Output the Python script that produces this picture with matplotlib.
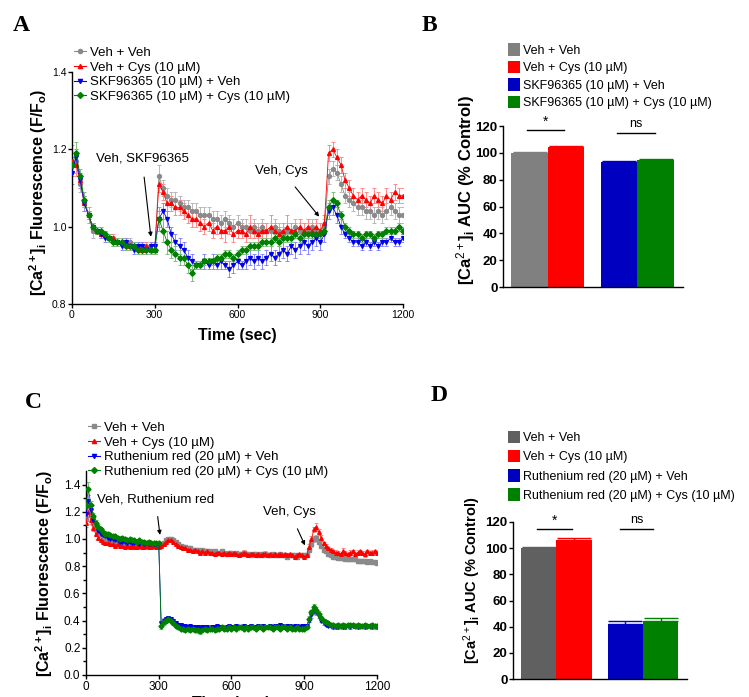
import numpy as np
import matplotlib
matplotlib.use("Agg")
import matplotlib.pyplot as plt
from matplotlib.lines import Line2D
from matplotlib.patches import Patch

plt.rcParams['font.family'] = ['Liberation Sans', 'DejaVu Sans']
plt.rcParams['mathtext.fontset'] = 'custom'
plt.rcParams['mathtext.rm'] = 'Liberation Sans'
plt.rcParams['mathtext.it'] = 'Liberation Sans:italic'
plt.rcParams['mathtext.bf'] = 'Liberation Sans:bold'

# ---------------- panel A data (every 15 s) ----------------
time_a = np.arange(0, 1201, 15)
veh_veh_a = [1.16, 1.17, 1.11, 1.06, 1.03, 0.99, 0.99, 0.98, 0.98, 0.97,
             0.97, 0.96, 0.96, 0.95, 0.96, 0.95, 0.95, 0.94, 0.95, 0.94,
             0.94, 1.13, 1.10, 1.08, 1.07, 1.07, 1.06, 1.05, 1.05, 1.04,
             1.04, 1.03, 1.03, 1.03, 1.02, 1.02, 1.01, 1.02, 1.01, 1.00,
             1.01, 1.00, 1.00, 0.99, 1.00, 0.99, 1.00, 0.99, 0.99, 1.00,
             0.99, 0.98, 0.99, 0.99, 1.00, 0.99, 0.99, 0.99, 1.00, 0.99,
             0.99, 1.00, 1.13, 1.15, 1.14, 1.11, 1.08, 1.07, 1.06, 1.05,
             1.05, 1.04, 1.04, 1.03, 1.04, 1.03, 1.04, 1.05, 1.04, 1.03,
             1.03]
veh_cys_a = [1.17, 1.16, 1.12, 1.06, 1.03, 1.00, 0.99, 0.98, 0.98, 0.97,
             0.97, 0.96, 0.96, 0.96, 0.95, 0.95, 0.95, 0.94, 0.95, 0.94,
             0.94, 1.11, 1.09, 1.06, 1.06, 1.05, 1.05, 1.04, 1.03, 1.02,
             1.02, 1.01, 1.00, 1.01, 0.99, 1.00, 0.99, 0.99, 1.00, 0.98,
             0.99, 0.99, 0.98, 1.00, 0.99, 0.98, 0.99, 0.99, 1.00, 0.99,
             0.98, 0.99, 1.00, 0.99, 0.99, 1.00, 0.99, 1.00, 0.99, 1.00,
             0.99, 1.01, 1.19, 1.20, 1.18, 1.16, 1.12, 1.10, 1.08, 1.07,
             1.08, 1.07, 1.06, 1.08, 1.07, 1.06, 1.08, 1.07, 1.09, 1.08,
             1.08]
skf_veh_a = [1.14, 1.18, 1.12, 1.06, 1.03, 1.00, 0.99, 0.98, 0.97, 0.97,
             0.96, 0.96, 0.95, 0.96, 0.95, 0.94, 0.95, 0.95, 0.94, 0.95,
             0.95, 1.02, 1.04, 1.02, 0.98, 0.96, 0.95, 0.94, 0.92, 0.91,
             0.90, 0.90, 0.91, 0.90, 0.91, 0.90, 0.91, 0.90, 0.89, 0.90,
             0.91, 0.90, 0.91, 0.92, 0.91, 0.92, 0.91, 0.92, 0.93, 0.92,
             0.93, 0.94, 0.93, 0.95, 0.94, 0.95, 0.96, 0.95, 0.96, 0.97,
             0.96, 0.98, 1.04, 1.05, 1.03, 1.00, 0.98, 0.97, 0.96, 0.96,
             0.95, 0.96, 0.95, 0.96, 0.95, 0.96, 0.96, 0.97, 0.96, 0.96,
             0.97]
skf_cys_a = [1.16, 1.19, 1.13, 1.07, 1.03, 1.00, 0.99, 0.99, 0.98, 0.97,
             0.96, 0.96, 0.96, 0.95, 0.95, 0.95, 0.94, 0.94, 0.94, 0.94,
             0.94, 1.02, 0.99, 0.96, 0.94, 0.93, 0.92, 0.92, 0.90, 0.88,
             0.90, 0.90, 0.91, 0.91, 0.91, 0.92, 0.92, 0.93, 0.93, 0.92,
             0.93, 0.94, 0.94, 0.95, 0.95, 0.95, 0.96, 0.96, 0.96, 0.97,
             0.96, 0.97, 0.97, 0.97, 0.98, 0.97, 0.98, 0.98, 0.98, 0.98,
             0.98, 0.99, 1.05, 1.07, 1.06, 1.03, 1.00, 0.99, 0.98, 0.98,
             0.97, 0.98, 0.98, 0.97, 0.98, 0.98, 0.99, 0.99, 0.99, 1.00,
             0.99]
# SEM
veh_veh_a_err = [0.03, 0.03, 0.02, 0.02, 0.02, 0.02, 0.01, 0.01, 0.01, 0.01,
                 0.01, 0.01, 0.01, 0.01, 0.01, 0.01, 0.01, 0.01, 0.01, 0.01,
                 0.01, 0.03, 0.02, 0.02, 0.02, 0.02, 0.02, 0.02, 0.02, 0.02,
                 0.02, 0.02, 0.02, 0.02, 0.02, 0.02, 0.02, 0.02, 0.02, 0.02,
                 0.02, 0.02, 0.02, 0.02, 0.02, 0.02, 0.02, 0.02, 0.02, 0.02,
                 0.02, 0.02, 0.02, 0.02, 0.02, 0.02, 0.02, 0.02, 0.02, 0.02,
                 0.02, 0.02, 0.02, 0.02, 0.02, 0.02, 0.02, 0.02, 0.02, 0.02,
                 0.02, 0.02, 0.02, 0.02, 0.02, 0.02, 0.02, 0.02, 0.02, 0.02,
                 0.02]
veh_cys_a_err = [0.04, 0.03, 0.02, 0.02, 0.02, 0.01, 0.01, 0.01, 0.01, 0.01,
                 0.01, 0.01, 0.01, 0.01, 0.01, 0.01, 0.01, 0.01, 0.01, 0.01,
                 0.01, 0.02, 0.02, 0.02, 0.02, 0.02, 0.02, 0.02, 0.02, 0.02,
                 0.02, 0.02, 0.02, 0.02, 0.02, 0.02, 0.02, 0.03, 0.02, 0.02,
                 0.02, 0.02, 0.02, 0.03, 0.02, 0.02, 0.02, 0.02, 0.03, 0.02,
                 0.02, 0.02, 0.03, 0.02, 0.02, 0.02, 0.02, 0.02, 0.02, 0.02,
                 0.02, 0.02, 0.02, 0.02, 0.02, 0.02, 0.02, 0.02, 0.02, 0.02,
                 0.02, 0.02, 0.02, 0.02, 0.02, 0.02, 0.02, 0.02, 0.02, 0.02,
                 0.02]
skf_veh_a_err = [0.03, 0.02, 0.02, 0.02, 0.01, 0.01, 0.01, 0.01, 0.01, 0.01,
                 0.01, 0.01, 0.01, 0.01, 0.01, 0.01, 0.01, 0.01, 0.01, 0.01,
                 0.01, 0.02, 0.02, 0.02, 0.02, 0.02, 0.02, 0.02, 0.02, 0.02,
                 0.01, 0.01, 0.02, 0.01, 0.02, 0.01, 0.02, 0.01, 0.02, 0.02,
                 0.02, 0.01, 0.02, 0.02, 0.02, 0.02, 0.02, 0.02, 0.02, 0.02,
                 0.02, 0.02, 0.02, 0.02, 0.02, 0.02, 0.02, 0.02, 0.02, 0.02,
                 0.02, 0.02, 0.02, 0.02, 0.02, 0.02, 0.01, 0.01, 0.01, 0.01,
                 0.01, 0.01, 0.01, 0.01, 0.01, 0.01, 0.01, 0.01, 0.01, 0.01,
                 0.01]
skf_cys_a_err = [0.02, 0.03, 0.02, 0.02, 0.01, 0.01, 0.01, 0.01, 0.01, 0.01,
                 0.01, 0.01, 0.01, 0.01, 0.01, 0.01, 0.01, 0.01, 0.01, 0.01,
                 0.01, 0.03, 0.03, 0.03, 0.02, 0.02, 0.02, 0.02, 0.02, 0.02,
                 0.01, 0.01, 0.01, 0.01, 0.01, 0.01, 0.01, 0.01, 0.01, 0.01,
                 0.01, 0.01, 0.01, 0.01, 0.01, 0.01, 0.01, 0.01, 0.01, 0.01,
                 0.01, 0.01, 0.01, 0.01, 0.01, 0.01, 0.01, 0.01, 0.01, 0.01,
                 0.01, 0.01, 0.02, 0.02, 0.01, 0.01, 0.01, 0.01, 0.01, 0.01,
                 0.01, 0.01, 0.01, 0.01, 0.01, 0.01, 0.01, 0.01, 0.01, 0.01,
                 0.01]

# ---------------- panel B data ----------------
bar_b_labels = ['Veh + Veh', 'Veh + Cys (10 µM)', 'SKF96365 (10 µM) + Veh',
                'SKF96365 (10 µM) + Cys (10 µM)']
bar_b_values = [100, 104.5, 93.5, 94.5]
bar_b_err = [0.8, 0.8, 0.6, 0.6]

# ---------------- panel C data (every 10 s) ----------------
time_c = np.arange(0, 1201, 10)
veh_veh_c = [1.15, 1.25, 1.18, 1.12, 1.08, 1.05, 1.03, 1.02, 1.01, 1.00,
             0.99, 0.99, 0.98, 0.98, 0.97, 0.97, 0.97, 0.96, 0.97, 0.96,
             0.96, 0.96, 0.95, 0.96, 0.95, 0.95, 0.96, 0.95, 0.95, 0.95,
             0.95, 0.96, 0.97, 0.99, 1.00, 1.00, 0.99, 0.98, 0.96, 0.95,
             0.94, 0.94, 0.93, 0.93, 0.92, 0.92, 0.92, 0.91, 0.92, 0.91,
             0.91, 0.91, 0.90, 0.91, 0.90, 0.90, 0.91, 0.90, 0.89, 0.90,
             0.90, 0.89, 0.90, 0.89, 0.89, 0.90, 0.89, 0.89, 0.88, 0.89,
             0.89, 0.88, 0.89, 0.88, 0.89, 0.88, 0.88, 0.89, 0.88, 0.88,
             0.89, 0.88, 0.88, 0.87, 0.88, 0.88, 0.88, 0.87, 0.88, 0.88,
             0.88, 0.88, 0.92, 0.96, 1.00, 1.01, 0.98, 0.95, 0.92, 0.91,
             0.89, 0.88, 0.87, 0.87, 0.86, 0.86, 0.86, 0.85, 0.85, 0.85,
             0.85, 0.85, 0.84, 0.84, 0.84, 0.84, 0.83, 0.84, 0.83, 0.83,
             0.82]
veh_cys_c = [1.12, 1.20, 1.14, 1.08, 1.04, 1.01, 0.99, 0.98, 0.97, 0.97,
             0.96, 0.96, 0.95, 0.96, 0.95, 0.95, 0.94, 0.95, 0.94, 0.95,
             0.94, 0.94, 0.95, 0.94, 0.94, 0.95, 0.94, 0.94, 0.95, 0.94,
             0.94, 0.95, 0.96, 0.98, 0.99, 0.99, 0.98, 0.96, 0.95, 0.94,
             0.93, 0.93, 0.92, 0.92, 0.91, 0.92, 0.91, 0.90, 0.91, 0.90,
             0.91, 0.90, 0.90, 0.89, 0.90, 0.90, 0.89, 0.90, 0.89, 0.90,
             0.89, 0.90, 0.89, 0.88, 0.89, 0.90, 0.89, 0.88, 0.89, 0.89,
             0.88, 0.89, 0.88, 0.89, 0.89, 0.88, 0.89, 0.88, 0.89, 0.88,
             0.89, 0.88, 0.89, 0.88, 0.89, 0.88, 0.87, 0.88, 0.89, 0.88,
             0.87, 0.88, 0.94, 1.00, 1.07, 1.09, 1.05, 1.01, 0.97, 0.95,
             0.93, 0.92, 0.91, 0.90, 0.90, 0.89, 0.91, 0.90, 0.89, 0.90,
             0.91, 0.89, 0.90, 0.91, 0.90, 0.89, 0.91, 0.90, 0.90, 0.91,
             0.90]
rr_veh_c = [1.18, 1.28, 1.21, 1.14, 1.10, 1.06, 1.04, 1.03, 1.02, 1.01,
            1.00, 1.00, 0.99, 0.99, 0.98, 0.98, 0.98, 0.97, 0.98, 0.97,
            0.97, 0.97, 0.96, 0.97, 0.96, 0.97, 0.96, 0.96, 0.96, 0.96,
            0.96, 0.38, 0.40, 0.41, 0.42, 0.41, 0.40, 0.38, 0.37, 0.37,
            0.36, 0.36, 0.35, 0.36, 0.35, 0.35, 0.35, 0.34, 0.35, 0.35,
            0.35, 0.34, 0.35, 0.35, 0.36, 0.35, 0.35, 0.34, 0.35, 0.36,
            0.35, 0.35, 0.36, 0.35, 0.35, 0.36, 0.35, 0.35, 0.36, 0.35,
            0.35, 0.36, 0.35, 0.36, 0.35, 0.35, 0.36, 0.35, 0.36, 0.36,
            0.37, 0.36, 0.35, 0.36, 0.36, 0.35, 0.36, 0.36, 0.35, 0.36,
            0.36, 0.36, 0.40, 0.44, 0.47, 0.46, 0.43, 0.40, 0.38, 0.37,
            0.36, 0.36, 0.35, 0.35, 0.35, 0.36, 0.35, 0.35, 0.36, 0.35,
            0.36, 0.36, 0.35, 0.36, 0.36, 0.35, 0.36, 0.36, 0.35, 0.36,
            0.35]
rr_cys_c = [1.24, 1.37, 1.25, 1.17, 1.12, 1.09, 1.07, 1.05, 1.04, 1.04,
            1.03, 1.02, 1.02, 1.01, 1.00, 1.01, 1.00, 0.99, 1.00, 0.99,
            0.99, 0.98, 0.99, 0.98, 0.98, 0.97, 0.98, 0.97, 0.97, 0.97,
            0.97, 0.36, 0.39, 0.40, 0.41, 0.40, 0.38, 0.36, 0.35, 0.34,
            0.34, 0.33, 0.34, 0.33, 0.34, 0.33, 0.33, 0.32, 0.33, 0.34,
            0.33, 0.34, 0.34, 0.33, 0.34, 0.34, 0.35, 0.34, 0.34, 0.35,
            0.34, 0.35, 0.34, 0.35, 0.35, 0.34, 0.35, 0.34, 0.35, 0.35,
            0.34, 0.35, 0.35, 0.34, 0.35, 0.35, 0.35, 0.34, 0.35, 0.35,
            0.34, 0.35, 0.35, 0.34, 0.35, 0.34, 0.34, 0.35, 0.34, 0.34,
            0.34, 0.35, 0.41, 0.46, 0.50, 0.48, 0.45, 0.42, 0.40, 0.39,
            0.38, 0.37, 0.37, 0.36, 0.37, 0.36, 0.37, 0.36, 0.37, 0.37,
            0.37, 0.36, 0.37, 0.36, 0.36, 0.37, 0.36, 0.36, 0.37, 0.36,
            0.36]
veh_veh_c_err = [0.03, 0.04, 0.03, 0.02, 0.02, 0.01, 0.01, 0.01, 0.01, 0.01,
                 0.01, 0.01, 0.01, 0.01, 0.01, 0.01, 0.01, 0.01, 0.01, 0.01,
                 0.01, 0.01, 0.01, 0.01, 0.01, 0.01, 0.01, 0.01, 0.01, 0.01,
                 0.01, 0.01, 0.01, 0.01, 0.01, 0.01, 0.01, 0.01, 0.01, 0.01,
                 0.01, 0.01, 0.01, 0.01, 0.01, 0.01, 0.01, 0.01, 0.01, 0.01,
                 0.01, 0.01, 0.01, 0.01, 0.01, 0.01, 0.01, 0.01, 0.01, 0.01,
                 0.01, 0.01, 0.01, 0.01, 0.01, 0.01, 0.01, 0.01, 0.01, 0.01,
                 0.01, 0.01, 0.01, 0.01, 0.01, 0.01, 0.01, 0.01, 0.01, 0.01,
                 0.01, 0.01, 0.01, 0.01, 0.01, 0.01, 0.01, 0.01, 0.01, 0.01,
                 0.01, 0.01, 0.01, 0.02, 0.02, 0.02, 0.02, 0.01, 0.01, 0.01,
                 0.01, 0.01, 0.01, 0.01, 0.01, 0.01, 0.01, 0.01, 0.01, 0.01,
                 0.01, 0.01, 0.01, 0.01, 0.01, 0.01, 0.01, 0.01, 0.01, 0.01,
                 0.01]
veh_cys_c_err = [0.03, 0.04, 0.03, 0.02, 0.02, 0.01, 0.01, 0.01, 0.01, 0.01,
                 0.01, 0.01, 0.01, 0.01, 0.01, 0.01, 0.01, 0.01, 0.01, 0.01,
                 0.01, 0.01, 0.01, 0.01, 0.01, 0.01, 0.01, 0.01, 0.01, 0.01,
                 0.01, 0.01, 0.01, 0.01, 0.01, 0.01, 0.01, 0.01, 0.01, 0.01,
                 0.01, 0.01, 0.01, 0.01, 0.01, 0.01, 0.01, 0.01, 0.01, 0.01,
                 0.01, 0.01, 0.01, 0.01, 0.01, 0.01, 0.01, 0.01, 0.01, 0.01,
                 0.01, 0.01, 0.01, 0.01, 0.01, 0.02, 0.01, 0.01, 0.01, 0.01,
                 0.01, 0.01, 0.01, 0.01, 0.02, 0.01, 0.01, 0.01, 0.01, 0.01,
                 0.01, 0.01, 0.01, 0.01, 0.01, 0.01, 0.01, 0.01, 0.01, 0.01,
                 0.01, 0.01, 0.02, 0.02, 0.02, 0.03, 0.02, 0.02, 0.01, 0.01,
                 0.01, 0.01, 0.01, 0.02, 0.01, 0.01, 0.02, 0.01, 0.01, 0.02,
                 0.01, 0.01, 0.02, 0.01, 0.01, 0.02, 0.01, 0.01, 0.02, 0.01,
                 0.01]
rr_veh_c_err = [0.05, 0.04, 0.03, 0.02, 0.02, 0.01, 0.01, 0.01, 0.01, 0.01,
                0.01, 0.01, 0.01, 0.01, 0.01, 0.01, 0.01, 0.01, 0.01, 0.01,
                0.01, 0.01, 0.01, 0.01, 0.01, 0.01, 0.01, 0.01, 0.01, 0.01,
                0.01, 0.02, 0.02, 0.01, 0.01, 0.01, 0.01, 0.01, 0.01, 0.01,
                0.01, 0.01, 0.01, 0.01, 0.01, 0.01, 0.01, 0.01, 0.01, 0.01,
                0.01, 0.01, 0.01, 0.01, 0.01, 0.01, 0.01, 0.01, 0.01, 0.01,
                0.01, 0.01, 0.01, 0.01, 0.01, 0.01, 0.01, 0.01, 0.01, 0.01,
                0.01, 0.01, 0.01, 0.01, 0.01, 0.01, 0.01, 0.01, 0.01, 0.01,
                0.01, 0.01, 0.01, 0.01, 0.01, 0.01, 0.01, 0.01, 0.01, 0.01,
                0.01, 0.01, 0.01, 0.02, 0.02, 0.02, 0.01, 0.01, 0.01, 0.01,
                0.01, 0.01, 0.01, 0.01, 0.01, 0.01, 0.01, 0.01, 0.01, 0.01,
                0.01, 0.01, 0.01, 0.01, 0.01, 0.01, 0.01, 0.01, 0.01, 0.01,
                0.01]
rr_cys_c_err = [0.04, 0.05, 0.03, 0.02, 0.02, 0.02, 0.01, 0.01, 0.02, 0.01,
                0.01, 0.01, 0.01, 0.01, 0.01, 0.01, 0.01, 0.01, 0.01, 0.01,
                0.01, 0.01, 0.01, 0.01, 0.01, 0.01, 0.01, 0.01, 0.01, 0.01,
                0.01, 0.02, 0.02, 0.02, 0.01, 0.01, 0.01, 0.01, 0.01, 0.01,
                0.01, 0.01, 0.01, 0.01, 0.01, 0.01, 0.02, 0.02, 0.01, 0.01,
                0.01, 0.01, 0.01, 0.01, 0.01, 0.01, 0.01, 0.01, 0.01, 0.01,
                0.01, 0.01, 0.01, 0.01, 0.01, 0.01, 0.01, 0.01, 0.01, 0.01,
                0.01, 0.01, 0.01, 0.01, 0.01, 0.01, 0.01, 0.01, 0.01, 0.01,
                0.01, 0.01, 0.01, 0.01, 0.01, 0.01, 0.01, 0.01, 0.01, 0.01,
                0.01, 0.01, 0.02, 0.02, 0.02, 0.02, 0.02, 0.01, 0.01, 0.01,
                0.01, 0.01, 0.01, 0.01, 0.01, 0.01, 0.01, 0.01, 0.01, 0.01,
                0.01, 0.01, 0.01, 0.01, 0.01, 0.01, 0.01, 0.01, 0.01, 0.01,
                0.01]

# ---------------- panel D data ----------------
bar_d_labels = ['Veh + Veh', 'Veh + Cys (10 µM)', 'Ruthenium red (20 µM) + Veh',
                'Ruthenium red (20 µM) + Cys (10 µM)']
bar_d_values = [100, 106, 42, 44.5]
bar_d_err = [1.0, 1.5, 2.0, 2.5]

bar_pos = [0, 1, 2.45, 3.45]
labels_a = ['Veh + Veh', 'Veh + Cys (10 µM)', 'SKF96365 (10 µM) + Veh',
            'SKF96365 (10 µM) + Cys (10 µM)']
labels_c = ['Veh + Veh', 'Veh + Cys (10 µM)', 'Ruthenium red (20 µM) + Veh',
            'Ruthenium red (20 µM) + Cys (10 µM)']

line_colors = ['#8a8a8a', '#ff0000', '#0000ee', '#008000']
err_colors = ['#b8b8b8', '#ff8a8a', '#8a8aff', '#80c080']
markers_a = ['o', '^', 'v', 'D']
markers_c = ['s', '^', 'v', 'D']
bar_colors_b = ['#808080', '#ff0000', '#0000c0', '#008000']
bar_colors_d = ['#606060', '#ff0000', '#0000c0', '#008000']

ca_label = r'[Ca$^{\mathbf{2+}}$]$_{\mathbf{i}}$ Fluorescence (F/F$_{\mathbf{o}}$)'
auc_label = r'[Ca$^{2+}$]$_{\mathbf{i}}$ AUC (% Control)'

fig = plt.figure(figsize=(7.49, 6.97), dpi=100)


def style_axes(ax):
    for s in ['top', 'right']:
        ax.spines[s].set_visible(False)
    for s in ['left', 'bottom']:
        ax.spines[s].set_linewidth(1.0)
    ax.tick_params(direction='out', length=3, width=1.0, pad=1)


def trace_panel(ax, t, series, errs, markers, ms):
    for v, e, c, ec, m in zip(series, errs, line_colors, err_colors, markers):
        ax.errorbar(t, v, yerr=e, fmt='none', ecolor=ec, elinewidth=0.7,
                    capsize=1.6, capthick=0.7, zorder=2)
        ax.plot(t, v, color=c, lw=0.6, marker=m, ms=ms, mec=c, mfc=c, zorder=3)
    handles = [Line2D([], [], color=c, marker=m, ms=3, lw=0.8)
               for c, m in zip(line_colors, markers)]
    return handles


# ---------- A ----------
axA = fig.add_axes([0.0961, 0.5638, 0.442, 0.3329])
hA = trace_panel(axA, time_a, [veh_veh_a, veh_cys_a, skf_veh_a, skf_cys_a],
                 [veh_veh_a_err, veh_cys_a_err, skf_veh_a_err, skf_cys_a_err],
                 markers_a, 2.8)
axA.set_xlim(0, 1200)
axA.set_ylim(0.8, 1.4)
axA.set_xticks([0, 300, 600, 900, 1200])
axA.set_yticks([0.8, 1.0, 1.2, 1.4])
axA.yaxis.set_major_formatter(plt.FormatStrFormatter('%.1f'))
style_axes(axA)
axA.tick_params(labelsize=7.5)
axA.set_xlabel('Time (sec)', fontsize=11.5, fontweight='bold', labelpad=6)
axA.set_ylabel(ca_label, fontsize=11.5, fontweight='bold')
axA.yaxis.set_label_coords(-0.07, 0.48)
axA.legend(hA, labels_a, loc='upper left', bbox_to_anchor=(0.0988, 0.933),
           bbox_transform=fig.transFigure, frameon=False, fontsize=9.5,
           handlelength=0.9, handletextpad=0.3, labelspacing=0.18,
           borderpad=0, borderaxespad=0)
axA.annotate('Veh, SKF96365', xy=(286, 0.974), xytext=(254, 1.176),
             ha='center', va='center', fontsize=9.5,
             arrowprops=dict(arrowstyle='-|>', color='black', lw=0.8,
                             mutation_scale=6, shrinkA=7, shrinkB=0))
axA.annotate('Veh, Cys', xy=(896, 1.026), xytext=(761, 1.145),
             ha='center', va='center', fontsize=9.5,
             arrowprops=dict(arrowstyle='-|>', color='black', lw=0.8,
                             mutation_scale=6, shrinkA=7, shrinkB=0))


def bar_panel(ax, values, errs, colors, labels, leg_top, leg_space, leg_size,
              ylab_size, ylab_xy, star_y, ns_y, star_x, ns_x):
    ax.bar(bar_pos, values, width=1.0, color=colors, edgecolor='none', zorder=2)
    for x, v, e, c in zip(bar_pos, values, errs, colors):
        ax.errorbar([x], [v], yerr=[[0], [e]], fmt='none', ecolor=c,
                    elinewidth=1.0, capsize=12, capthick=1.0, zorder=1)
    ax.set_ylim(0, 120)
    ax.set_xlim(-0.73, 4.2)
    ax.set_yticks([0, 20, 40, 60, 80, 100, 120])
    ax.set_xticks([])
    style_axes(ax)
    ax.tick_params(labelsize=9.5)
    for lab in ax.get_yticklabels():
        lab.set_fontweight('bold')
    ax.set_ylabel(auc_label, fontsize=ylab_size, fontweight='bold')
    ax.yaxis.set_label_coords(*ylab_xy)
    ax.plot(star_x, [star_y, star_y], color='black', lw=1.0, clip_on=False)
    ax.plot(ns_x, [ns_y, ns_y], color='black', lw=1.0, clip_on=False)
    ax.text(np.mean(star_x), star_y + 1.0, '*', ha='center', va='bottom',
            fontsize=10)
    ax.text(np.mean(ns_x), ns_y + 2.0, 'ns', ha='center', va='bottom',
            fontsize=9)
    handles = [Patch(facecolor=c, edgecolor='none') for c in colors]
    ax.legend(handles, labels, loc='upper left', bbox_to_anchor=(0.678, leg_top),
              bbox_transform=fig.transFigure, frameon=False, fontsize=leg_size,
              handlelength=0.95, handleheight=1.15, handletextpad=0.3,
              labelspacing=leg_space, borderpad=0, borderaxespad=0)


# ---------- B ----------
axB = fig.add_axes([0.6716, 0.5882, 0.2403, 0.231])
bar_panel(axB, bar_b_values, bar_b_err, bar_colors_b, bar_b_labels, 0.938, 0.33,
          9.0, 12, (-0.145, 0.6), 117, 115, [-0.07, 0.95], [2.4, 3.44])

# ---------- C ----------
axC = fig.add_axes([0.1148, 0.0316, 0.3885, 0.2927])
hC = trace_panel(axC, time_c, [veh_veh_c, veh_cys_c, rr_veh_c, rr_cys_c],
                 [veh_veh_c_err, veh_cys_c_err, rr_veh_c_err, rr_cys_c_err],
                 markers_c, 2.6)
axC.set_xlim(0, 1200)
axC.set_ylim(0, 1.5)
axC.set_xticks([0, 300, 600, 900, 1200])
axC.set_yticks([0, 0.2, 0.4, 0.6, 0.8, 1.0, 1.2, 1.4])
axC.set_yticks(np.arange(0.1, 1.5, 0.2), minor=True)
axC.yaxis.set_major_formatter(plt.FormatStrFormatter('%.1f'))
style_axes(axC)
axC.tick_params(axis='y', which='minor', length=2, width=1.0)
axC.tick_params(labelsize=8.5)
axC.set_ylabel(ca_label, fontsize=11.5, fontweight='bold')
axC.yaxis.set_label_coords(-0.105, 0.5)
fig.text((86 + 377) / 2 / 749, -0.009, 'Time (sec)', ha='center', va='center',
         fontsize=11.5, fontweight='bold')
axC.legend(hC, labels_c, loc='upper left', bbox_to_anchor=(0.1175, 0.395),
           bbox_transform=fig.transFigure, frameon=False, fontsize=9.5,
           handlelength=0.9, handletextpad=0.3, labelspacing=0.18,
           borderpad=0, borderaxespad=0)
axC.annotate('Veh, Ruthenium red', xy=(305, 1.03), xytext=(287, 1.29),
             ha='center', va='center', fontsize=9.5,
             arrowprops=dict(arrowstyle='-|>', color='black', lw=0.8,
                             mutation_scale=6, shrinkA=6, shrinkB=0))
axC.annotate('Veh, Cys', xy=(903, 0.953), xytext=(841, 1.195),
             ha='center', va='center', fontsize=9.5,
             arrowprops=dict(arrowstyle='-|>', color='black', lw=0.8,
                             mutation_scale=6, shrinkA=6, shrinkB=0))

# ---------- D ----------
axD = fig.add_axes([0.6849, 0.0258, 0.2323, 0.2253])
bar_panel(axD, bar_d_values, bar_d_err, bar_colors_d, bar_d_labels, 0.382, 0.46,
          9.0, 10.5, (-0.17, 0.63), 114.6, 114.6, [-0.06, 0.93], [2.31, 3.24])

# panel letters
for letter, x, y in [('A', 0.029, 0.964), ('B', 0.574, 0.964),
                     ('C', 0.044, 0.422), ('D', 0.586, 0.433)]:
    fig.text(x, y, letter, fontsize=17, fontweight='bold',
             family='Liberation Serif', ha='center', va='center')

fig.savefig('out.png', dpi=100)
